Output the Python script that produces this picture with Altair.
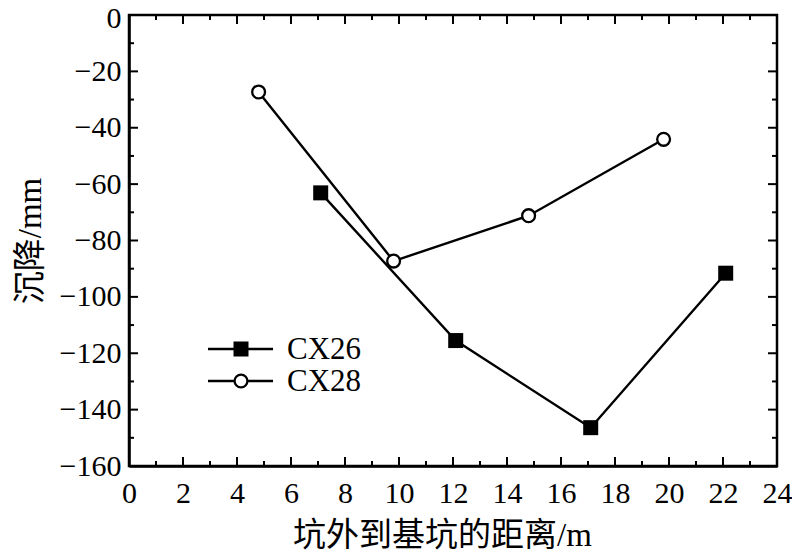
import altair as alt
import pandas as pd

series_names = ["CX26", "CX28"]
cx26_x = [7.1, 12.1, 17.1, 22.1]
cx26_y = [-63.1, -115.5, -146.4, -91.6]
cx28_x = [4.8, 9.8, 14.8, 19.8]
cx28_y = [-27.3, -87.3, -71.2, -44.1]
x_major = list(range(0, 25, 2))
x_minor = list(range(1, 24, 2))
y_major = list(range(-160, 1, 20))
y_minor = list(range(-150, 0, 20))
x_title = "坑外到基坑的距离/m"
y_title = "沉降/mm"

W, H = 648, 451
FONT = "Liberation Serif, Noto Sans CJK SC"
LFS = 30
TFS = 33
LEGFS = 31
LW = 2.4

xs = alt.Scale(domain=[0, 24], nice=False, zero=False)
ys = alt.Scale(domain=[-160, 0], nice=False, zero=False)

df26 = pd.DataFrame({"x": cx26_x, "y": cx26_y})
df28 = pd.DataFrame({"x": cx28_x, "y": cx28_y})

minus_expr = "datum.value < 0 ? '\u2212' + format(-datum.value, 'd') : format(datum.value, 'd')"

x_axis = alt.Axis(values=x_major, ticks=False, grid=False, labelFont=FONT, labelFontSize=LFS,
                  labelColor="black", labelPadding=12, title=x_title, titleFont=FONT,
                  titleFontSize=TFS, titleFontWeight="normal", titleColor="black", titlePadding=11,
                  titleX=313, titleAlign="center",
                  domainColor="black", domainWidth=2.5, labelFlush=False)
y_axis = alt.Axis(values=y_major, ticks=False, grid=False, labelFont=FONT, labelFontSize=LFS,
                  labelColor="black", labelPadding=8, title=y_title, titleFont=FONT,
                  titleFontSize=TFS, titleFontWeight="normal", titleColor="black", titlePadding=12,
                  domainColor="black", domainWidth=2.5, labelFlush=False, labelExpr=minus_expr,
                  labelOffset={"condition": {"test": "datum.value == 0", "value": 3}, "value": 0})


def X(field):
    return alt.X(field, scale=xs, axis=x_axis)


def Y(field):
    return alt.Y(field, scale=ys, axis=y_axis)


line26 = alt.Chart(df26).mark_line(color="black", strokeWidth=LW).encode(x=X("x:Q"), y=Y("y:Q"))
line28 = alt.Chart(df28).mark_line(color="black", strokeWidth=LW).encode(x=X("x:Q"), y=Y("y:Q"))
pts26 = alt.Chart(df26).mark_point(shape="square", filled=True, color="black", size=225,
                                   opacity=1).encode(x=X("x:Q"), y=Y("y:Q"))
pts28 = alt.Chart(df28).mark_point(shape="circle", filled=True, fill="white", stroke="black",
                                   strokeWidth=2.3, size=165, opacity=1).encode(x=X("x:Q"), y=Y("y:Q"))


# inward ticks on all four sides
def xticks(vals, length):
    d = pd.DataFrame({"x": vals})
    bot = alt.Chart(d).mark_rule(color="black", strokeWidth=2).encode(
        x=X("x:Q"), y=alt.value(H), y2=alt.value(H - length))
    top = alt.Chart(d).mark_rule(color="black", strokeWidth=2).encode(
        x=X("x:Q"), y=alt.value(0), y2=alt.value(length))
    return [bot, top]


def yticks(vals, length):
    d = pd.DataFrame({"y": vals})
    left = alt.Chart(d).mark_rule(color="black", strokeWidth=2).encode(
        y=Y("y:Q"), x=alt.value(0), x2=alt.value(length))
    right = alt.Chart(d).mark_rule(color="black", strokeWidth=2).encode(
        y=Y("y:Q"), x=alt.value(W), x2=alt.value(W - length))
    return [left, right]


tick_layers = xticks(x_major, 9) + xticks(x_minor, 5) + yticks(y_major, 9) + yticks(y_minor, 5)

# legend
legend_layers = []
for i, name in enumerate(series_names):
    d = pd.DataFrame({"series": [name]})
    yy = 334 + 32 * i
    legend_layers.append(alt.Chart(d).mark_rule(color="black", strokeWidth=LW).encode(
        x=alt.value(79), x2=alt.value(144), y=alt.value(yy)))
    if i == 0:
        legend_layers.append(alt.Chart(d).mark_point(shape="square", filled=True, color="black",
                                                     size=225, opacity=1).encode(
            x=alt.value(112), y=alt.value(yy)))
    else:
        legend_layers.append(alt.Chart(d).mark_point(shape="circle", filled=True, fill="white",
                                                     stroke="black", strokeWidth=2.3, size=165,
                                                     opacity=1).encode(
            x=alt.value(112), y=alt.value(yy)))
    legend_layers.append(alt.Chart(d).mark_text(align="left", baseline="middle", font=FONT,
                                                fontSize=LEGFS, color="black").encode(
        x=alt.value(158), y=alt.value(yy + 1), text="series:N"))

chart = alt.layer(line26, line28, pts26, pts28, *tick_layers, *legend_layers).properties(
    width=W, height=H,
    autosize=alt.AutoSizeParams(type="none"),
    padding={"left": 121, "top": 7, "right": 15, "bottom": 92},
).configure_view(stroke="black", strokeWidth=2.5)

chart.save("out.html", embed_options={"renderer": "svg", "actions": False})
